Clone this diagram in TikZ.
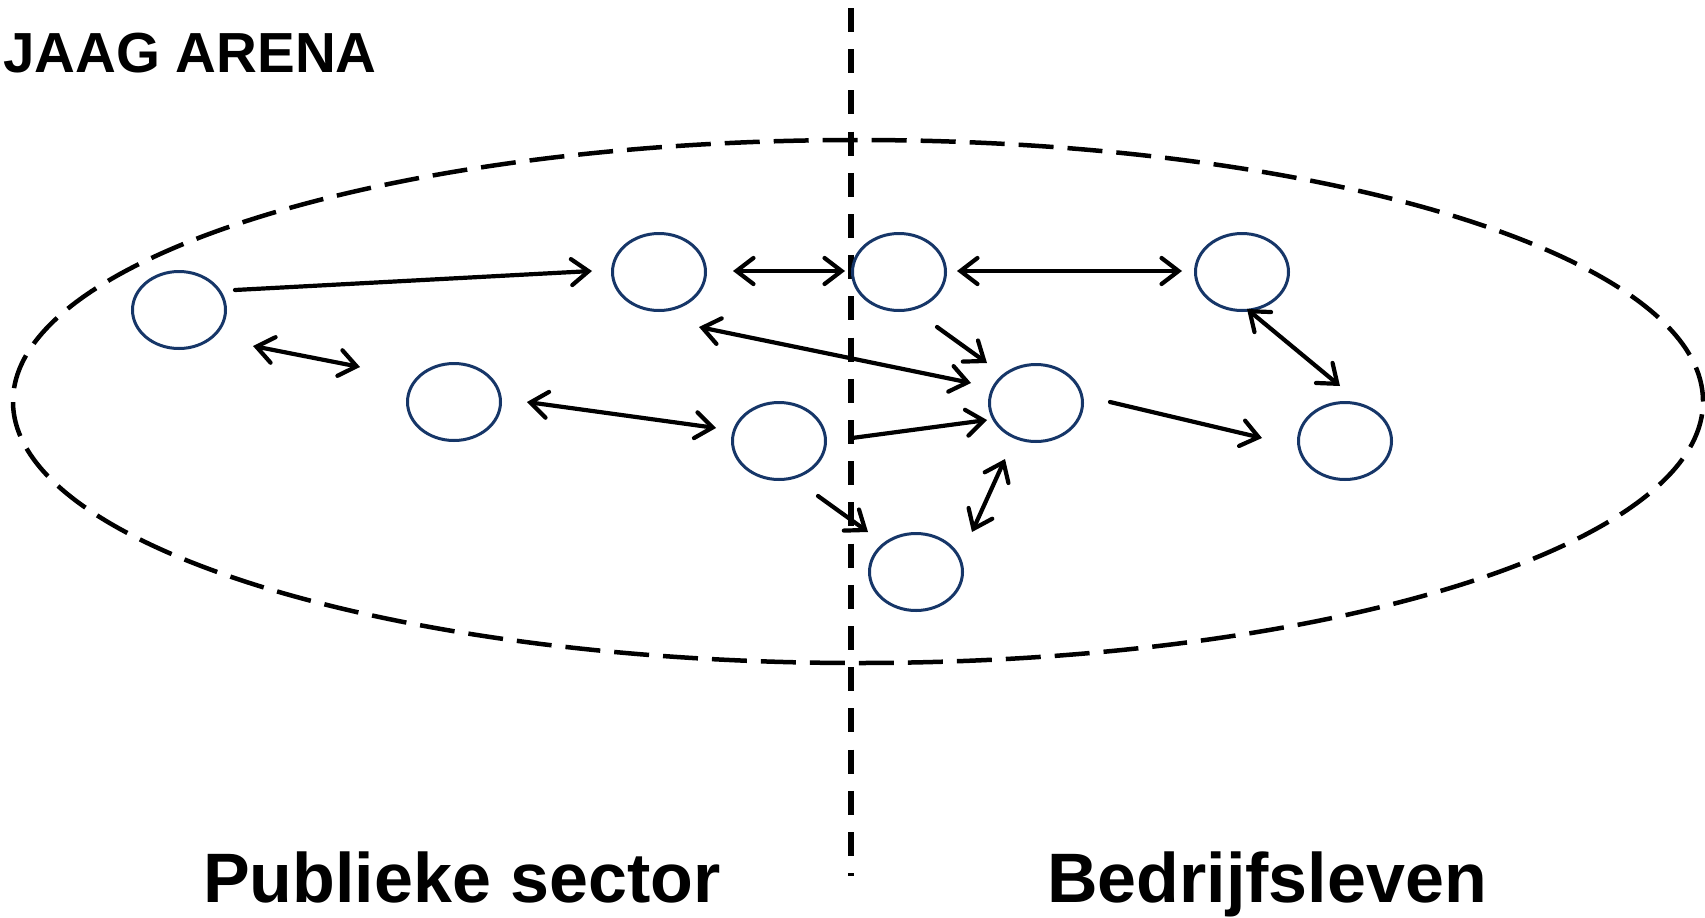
\documentclass[tikz,border=0pt]{standalone}
\usepackage{fontspec}
\setmainfont{Liberation Sans}
\usetikzlibrary{shapes.geometric,arrows.meta,calc}
\definecolor{nodeblue}{RGB}{22,54,104}
\tikzset{
  actor/.style={ellipse, draw=nodeblue, line width=3bp, minimum width=93bp, minimum height=77bp, inner sep=0pt},
  link/.style={line width=4.2bp, line cap=round},
  onehead/.style={link, -{Straight Barb[length=17bp,width=26bp,line cap=round]}},
  twohead/.style={link, {Straight Barb[length=17bp,width=26bp,line cap=round]}-{Straight Barb[length=17bp,width=26bp,line cap=round]}},
  arena/.style={line width=4.5bp, dash pattern=on 35bp off 14bp},
  divider/.style={line width=5.5bp, dash pattern=on 24bp off 17.2bp},
  bigtitle/.style={font=\bfseries\fontsize{70bp}{80bp}\selectfont, anchor=base west, inner sep=0pt},
  smalltitle/.style={font=\bfseries\fontsize{56.5bp}{64bp}\selectfont, anchor=base west, inner sep=0pt}
}
\begin{document}
\begin{tikzpicture}[x=1bp,y=-1bp]
\useasboundingbox (0,0) rectangle (1705,917);
\fill[white] (0,0) rectangle (1705,917);
% arena and divider
\coordinate (arenaC) at (858,401.5);
\draw[arena] (arenaC) ellipse [x radius=845bp, y radius=261.5bp];
\coordinate (divTop) at (851,8);
\coordinate (divBot) at (851,876);
\draw[divider] (divTop) -- (divBot);
% actors
\node[actor] (A) at (179,310) {};
\node[actor] (B) at (659,272) {};
\node[actor] (C) at (899,272) {};
\node[actor] (D) at (1242,272) {};
\node[actor] (E) at (454,402) {};
\node[actor] (F) at (779,441) {};
\node[actor] (G) at (1036,403) {};
\node[actor] (H) at (1345,441) {};
\node[actor] (I) at (916,572) {};
% connectors
\draw[onehead] ($(A)+(56,-20)$) -- ($(B)+(-67,-1)$);
\draw[twohead] ($(A)+(74,36)$) -- ($(E)+(-94,-35)$);
\draw[twohead] ($(B)+(74,-1)$) -- ($(C)+(-54,-1)$);
\draw[twohead] ($(C)+(58,-1)$) -- ($(D)+(-60,-1)$);
\draw[onehead] ($(C)+(38,55)$) -- ($(G)+(-49,-40)$);
\draw[twohead] ($(B)+(40,55)$) -- ($(G)+(-65,-20)$);
\draw[twohead] ($(E)+(73,0)$) -- ($(F)+(-63,-13)$);
\draw[onehead] ($(F)+(73,-3)$) -- ($(G)+(-49,17)$);
\draw[onehead] ($(F)+(39,55)$) -- ($(I)+(-48,-40)$);
\draw[twohead] ($(G)+(-31,56)$) -- ($(I)+(56,-40)$);
\draw[onehead] ($(G)+(74,-1)$) -- ($(H)+(-83,-3)$);
\draw[twohead] ($(D)+(5,37)$) -- ($(H)+(-5,-55)$);
% labels
\node[smalltitle] (title) at (3,72) {JAAG ARENA};
\node[bigtitle] (pub) at (203,902) {Publieke sector};
\node[bigtitle] (bed) at (1047,902) {Bedrijfsleven};
\end{tikzpicture}
\end{document}
